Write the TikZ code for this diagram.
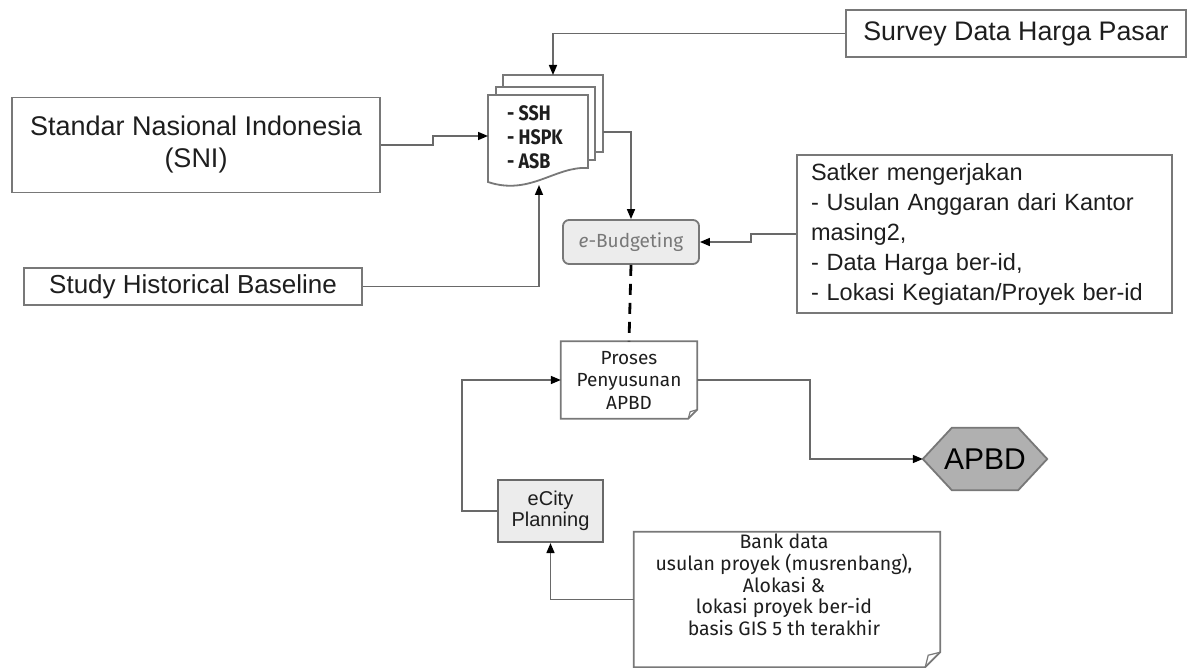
\documentclass[tikz,border=0pt]{standalone}
\usepackage{fontspec}
\setmainfont{Liberation Sans}
\newfontfamily\ubf{Fira Sans}
\newfontfamily\ubcond[FakeStretch=0.85]{Fira Sans}
\usetikzlibrary{arrows.meta,backgrounds}
\definecolor{bordergray}{RGB}{120,120,120}
\definecolor{linegray}{RGB}{105,105,105}
\definecolor{fillgray}{RGB}{236,236,236}
\definecolor{hexgray}{RGB}{176,176,176}
\definecolor{textgray}{RGB}{120,120,120}
\definecolor{txt}{RGB}{30,30,30}
\begin{document}
\begin{tikzpicture}[x=1pt,y=-1pt,
  box/.style={draw=bordergray,line width=1.8pt,fill=white,inner sep=0pt,align=center,text=txt},
  shapeline/.style={draw=bordergray,line width=1.8pt},
  conn/.style={draw=linegray,line width=1.6pt,-{Triangle[length=10pt,width=8pt,color=black]}},
  dashconn/.style={draw=black,line width=2.8pt,dash pattern=on 11pt off 8pt},
  arialbig/.style={font=\fontsize{26}{32}\selectfont},
]
\begin{pgfonlayer}{background}
\fill[white] (0,0) rectangle (1188,668);
\end{pgfonlayer}
\useasboundingbox (0,0) rectangle (1188,668);

% document stack
\draw[shapeline,fill=white] (503,75) rectangle (603,152);
\draw[shapeline,fill=white] (496,87) rectangle (595,160);
\draw[shapeline,fill=white] (488,95) -- (588,95) -- (588,168)
   .. controls (555,166) and (530,196) .. (488,182) -- cycle;
\node[anchor=west,align=left,inner sep=0pt,text=txt,
      font=\ubcond\bfseries\fontsize{21}{24}\selectfont] (doc) at (507,137) {- SSH\\- HSPK\\- ASB};
\coordinate (docTop) at (553,75);
\coordinate (docLeft) at (488,136);
\coordinate (docBot) at (539,185);
\coordinate (docRight) at (603,132);

% boxes
\node[box,font=\fontsize{26.8}{32}\selectfont,minimum width=340pt,minimum height=47pt] (survey) at (1016,33.5) {Survey Data Harga Pasar};
\node[box,font=\fontsize{27}{32}\selectfont,minimum width=368pt,minimum height=95pt] (sni) at (196,145) {Standar Nasional Indonesia\\(SNI)};
\node[box,arialbig,minimum width=338pt,minimum height=37pt] (shb) at (193,286.5) {Study Historical Baseline};
\node[box,align=left,text width=347pt,inner xsep=14pt,minimum height=158pt,
      font=\fontsize{23.5}{30}\selectfont] (satker) at (984.5,234)
      {Satker mengerjakan\\- Usulan Anggaran dari Kantor\\masing2,\\- Data Harga ber-id,\\- Lokasi Kegiatan/Proyek ber-id};
\node[box,fill=fillgray,rounded corners=6pt,minimum width=136pt,minimum height=44pt,text=textgray,
      font=\ubf\fontsize{19}{22}\selectfont] (ebud) at (631,242) {{\itshape e}-Budgeting};
\node[inner sep=0pt,minimum width=136pt,minimum height=77pt,align=center,text=txt,
      font=\ubf\fontsize{19}{22.5}\selectfont] (proses) at (629,380) {Proses\\Penyusunan\\APBD};
\draw[shapeline] (proses.north west) -- (proses.north east) -- ([yshift=9pt]proses.south east)
   -- ([xshift=-9pt]proses.south east) -- (proses.south west) -- cycle;
\draw[shapeline,line width=1.2pt] ([xshift=-9pt]proses.south east) -- ([xshift=-7pt,yshift=7pt]proses.south east) -- ([yshift=9pt]proses.south east);

\node[inner sep=0pt,minimum width=124pt,minimum height=62pt,text=black,
      font=\fontsize{30}{34}\selectfont] (apbd) at (985,459) {APBD};
\begin{pgfonlayer}{background}
\draw[shapeline,fill=hexgray] (apbd.west) -- ([xshift=29pt]apbd.north west) -- ([xshift=-29pt]apbd.north east)
   -- (apbd.east) -- ([xshift=-29pt]apbd.south east) -- ([xshift=29pt]apbd.south west) -- cycle;
\end{pgfonlayer}

\node[box,fill=fillgray,draw=linegray,line width=2.2pt,minimum width=105pt,minimum height=62pt,
      font=\fontsize{20}{21}\selectfont] (ecity) at (550.5,511) {eCity\\Planning};

\node[inner sep=0pt,minimum width=306pt,minimum height=135pt] (bank) at (787,599.5) {};
\draw[shapeline] (bank.north west) -- (bank.north east) -- ([yshift=15pt]bank.south east)
   -- ([xshift=-15pt]bank.south east) -- (bank.south west) -- cycle;
\draw[shapeline,line width=1.2pt] ([xshift=-15pt]bank.south east) -- ([xshift=-12pt,yshift=12pt]bank.south east) -- ([yshift=15pt]bank.south east);
\node[inner sep=0pt,align=center,text=txt,font=\ubf\fontsize{19.5}{21.8}\selectfont] (banktxt) at (784,585)
  {Bank data\\usulan proyek (musrenbang),\\Alokasi \&\\lokasi proyek ber-id\\basis GIS 5 th terakhir};

% connectors
\draw[conn] (survey.west) -| (docTop);
\draw[conn] (sni.east) -- ++(52,0) |- (docLeft);
\draw[conn] (shb.east) -| (docBot);
\draw[conn] (docRight) -| (ebud.north);
\draw[conn] (satker.west) -- ++(-45,0) |- (ebud.east);
\draw[dashconn] (ebud.south) -- (proses.north);
\draw[conn] (ecity.west) -- ++(-35,0) |- (proses.west);
\draw[conn] (proses.east) -- ++(113,0) |- (apbd.west);
\draw[conn] (bank.west) -| (ecity.south);
\end{tikzpicture}
\end{document}
